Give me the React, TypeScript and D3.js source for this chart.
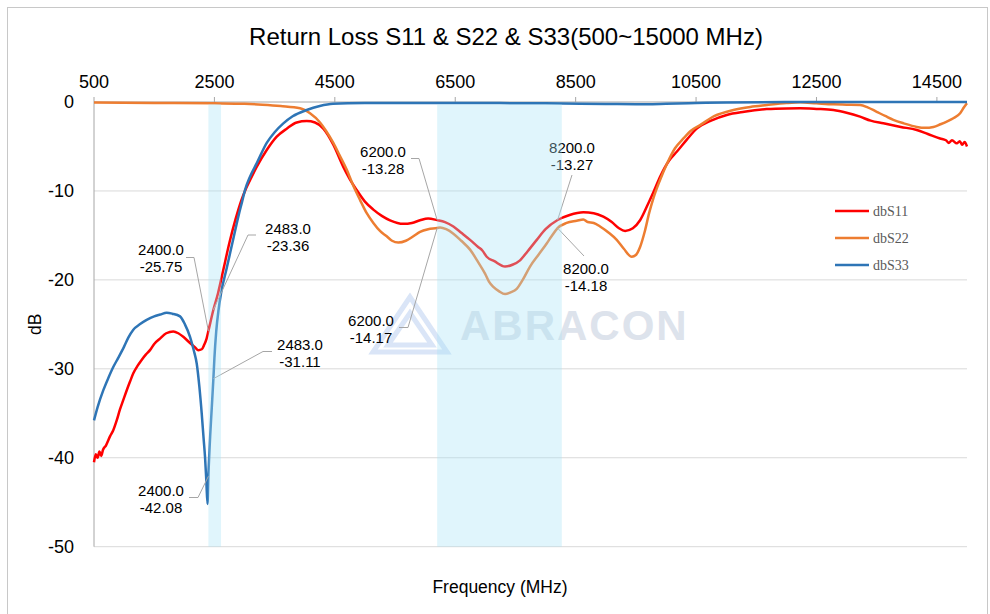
import * as d3 from 'd3';

const W = 990;
const H = 614;

// axis ticks
const xTicks = [500, 2500, 4500, 6500, 8500, 10500, 12500, 14500];
const yTicks = [0, -10, -20, -30, -40, -50];

// frequency (MHz), dB
const s11: [number, number][] = [
  [500, -40.5], [530, -39.6], [560, -40.0], [590, -39.3], [620, -39.8], [650, -39.1],
  [700, -38.6], [766, -37.6], [820, -36.9], [877, -35.8], [930, -34.6], [987, -33.5],
  [1050, -32.3], [1100, -31.4], [1153, -30.5], [1220, -29.7], [1291, -29.0], [1360, -28.4],
  [1430, -27.9], [1500, -27.2], [1596, -26.6], [1700, -26.0], [1817, -25.8], [1900, -26.0],
  [1983, -26.4], [2095, -27.1], [2180, -27.6], [2233, -27.9], [2290, -27.8], [2330, -27.3],
  [2370, -26.6], [2400, -25.75], [2483, -23.36], [2560, -21.5], [2650, -18.8], [2750, -15.8],
  [2850, -13.2], [2950, -11.0], [3008, -10.0], [3091, -8.8], [3202, -7.3], [3369, -5.4],
  [3535, -3.9], [3701, -3.0], [3867, -2.3], [4033, -2.14], [4171, -2.3], [4309, -3.0],
  [4475, -4.8], [4641, -7.3], [4750, -8.7], [4863, -9.9], [5000, -11.2], [5140, -12.1],
  [5280, -12.8], [5417, -13.3], [5638, -13.7], [5780, -13.6], [5915, -13.3], [6050, -13.1],
  [6200, -13.28], [6330, -13.5], [6469, -14.0], [6600, -14.7], [6746, -15.5], [6880, -16.3],
  [6950, -16.7], [7023, -17.4], [7150, -17.9], [7327, -18.5], [7450, -18.3], [7576, -17.8],
  [7700, -16.8], [7854, -15.5], [8000, -14.3], [8200, -13.27], [8400, -12.7], [8628, -12.4],
  [8800, -12.5], [8960, -12.9], [9100, -13.5], [9220, -14.2], [9321, -14.5], [9450, -14.2],
  [9570, -13.3], [9700, -11.5], [9800, -10.0], [9902, -8.4], [10050, -6.6], [10179, -5.6],
  [10350, -4.2], [10511, -3.0], [10750, -2.1], [11009, -1.46], [11300, -1.1], [11674, -0.8],
  [12000, -0.72], [12228, -0.71], [12500, -0.78], [12781, -0.9], [13000, -1.2], [13224, -1.65],
  [13400, -2.1], [13611, -2.4], [13900, -2.8], [14166, -3.15], [14350, -3.6], [14553, -4.1],
  [14650, -4.3], [14700, -4.6], [14750, -4.3], [14831, -4.65], [14880, -4.4], [14920, -4.8],
  [14960, -4.5], [15000, -5.0],
];

const s22: [number, number][] = [
  [500, -0.05], [1500, -0.1], [2500, -0.15], [3000, -0.2], [3300, -0.3], [3600, -0.45],
  [3922, -0.7], [4088, -1.27], [4254, -2.3], [4350, -3.2], [4475, -4.6], [4580, -6.0],
  [4697, -7.6], [4800, -9.3], [4918, -11.0], [5030, -12.5], [5140, -13.6], [5250, -14.5],
  [5362, -15.1], [5450, -15.6], [5555, -15.8], [5680, -15.6], [5804, -15.1], [5915, -14.6],
  [6050, -14.3], [6200, -14.17], [6248, -14.1], [6350, -14.3], [6469, -14.8], [6600, -15.6],
  [6746, -16.6], [6880, -18.0], [6995, -19.3], [7060, -20.2], [7133, -20.8], [7230, -21.3],
  [7327, -21.6], [7420, -21.4], [7521, -21.0], [7620, -20.0], [7742, -18.5], [7880, -17.2],
  [8019, -15.9], [8100, -15.1], [8200, -14.18], [8350, -13.6], [8518, -13.35], [8628, -13.2],
  [8700, -13.5], [8800, -13.6], [8905, -14.0], [9050, -14.7], [9182, -15.5], [9300, -16.5],
  [9432, -17.4], [9500, -17.2], [9570, -16.3], [9650, -14.5], [9720, -12.5], [9792, -10.8],
  [9900, -8.8], [10013, -7.0], [10150, -5.2], [10290, -4.1], [10420, -3.2], [10567, -2.6],
  [10800, -1.6], [11120, -0.9], [11400, -0.55], [11674, -0.34], [12000, -0.12], [12228, -0.04],
  [12500, -0.15], [12781, -0.26], [13000, -0.3], [13224, -0.34], [13350, -0.6], [13500, -1.1],
  [13650, -1.6], [13777, -2.0], [13950, -2.4], [14166, -2.8], [14300, -2.9], [14443, -2.8],
  [14560, -2.5], [14664, -2.2], [14780, -1.8], [14886, -1.27], [14950, -0.6], [15000, -0.15],
];

const s33: [number, number][] = [
  [500, -35.8], [560, -34.3], [655, -32.4], [740, -31.0], [820, -29.8], [900, -28.8],
  [1000, -27.5], [1070, -26.5], [1153, -25.6], [1260, -25.0], [1375, -24.5], [1500, -24.1],
  [1600, -23.9], [1707, -23.7], [1800, -23.8], [1929, -24.1], [2010, -25.0], [2095, -26.4],
  [2160, -28.0], [2206, -29.4], [2250, -32.0], [2289, -35.0], [2320, -37.8], [2344, -39.9],
  [2365, -42.5], [2385, -45.2], [2400, -42.08], [2430, -37.5], [2455, -34.5], [2483, -31.11],
  [2500, -28.8], [2530, -25.8], [2570, -23.3], [2610, -21.5], [2700, -18.8], [2800, -15.8],
  [2900, -12.8], [2960, -11.2], [3008, -9.9], [3091, -8.4], [3202, -6.9], [3369, -4.6],
  [3500, -3.4], [3645, -2.4], [3800, -1.6], [4033, -0.9], [4250, -0.45], [4470, -0.2],
  [5000, -0.12], [6000, -0.1], [7000, -0.12], [8000, -0.15], [9000, -0.22], [9500, -0.25],
  [10000, -0.2], [10500, -0.12], [11000, -0.05], [12000, 0], [15000, 0],
];

const seriesNames = ['dbS11', 'dbS22', 'dbS33'];
const seriesColors = ['#ff0000', '#ed7d31', '#2e75b6'];

// shaded bands (MHz)
const bands: [number, number][] = [[2400, 2610], [6200, 8270]];

// marker readouts: frequency, dB
const markers: [number, number][] = [
  [2400, -25.75], [2483, -23.36], [2483, -31.11], [2400, -42.08],
  [6200, -13.28], [8200, -13.27], [6200, -14.17], [8200, -14.18],
];

// where each readout label sits (px) and the elbow of its leader line
const labelSpots: { cx: number; by: number; leader: [number, number][] }[] = [
  { cx: 161, by: 254.5, leader: [[186, 257.5], [194, 257.5]] },
  { cx: 288, by: 233.5, leader: [[256, 235], [248, 235]] },
  { cx: 300, by: 350, leader: [[272, 351.5], [263, 351.5]] },
  { cx: 161, by: 496, leader: [[189, 497.5], [198, 497.5]] },
  { cx: 383, by: 156.5, leader: [[411, 158.5], [419, 158.5]] },
  { cx: 572, by: 153, leader: [[572, 175]] },
  { cx: 371, by: 326, leader: [[399, 327.5], [408, 327.5]] },
  { cx: 586, by: 274, leader: [[584, 256]] },
];

const FONT = '"Liberation Sans", Arial, sans-serif';

export default function App() {
  const pad = { left: 94, right: 967, top: 102, bottom: 546.7 };
  const x = d3.scaleLinear().domain([500, 15000]).range([pad.left, pad.right]);
  const y = d3.scaleLinear().domain([-50, 0]).range([pad.bottom, pad.top]);

  const line = d3.line<[number, number]>()
    .x(d => x(d[0]))
    .y(d => y(d[1]))
    .curve(d3.curveMonotoneX);

  const series = [s11, s22, s33];

  return (
    <svg width={W} height={H} style={{ position: 'absolute', left: 0, top: 0, background: '#fff' }}>
      <rect x={7.5} y={7.5} width={980} height={640} fill="#fff" stroke="#c8c8c8" />

      <text x={506} y={45} textAnchor="middle" fontFamily={FONT} fontSize={24} fill="#000">
        Return Loss S11 &amp; S22 &amp; S33(500~15000 MHz)
      </text>

      {/* gridlines */}
      {yTicks.filter(t => t !== 0).map(t => (
        <line key={t} x1={pad.left} x2={pad.right} y1={y(t)} y2={y(t)} stroke="#d9d9d9" strokeWidth={1} />
      ))}

      {/* axes */}
      <line x1={pad.left} x2={pad.left} y1={pad.top} y2={pad.bottom} stroke="#a6a6a6" />
      <line x1={pad.left} x2={pad.right} y1={y(0)} y2={y(0)} stroke="#a6a6a6" />
      {xTicks.map(t => (
        <g key={t}>
          <line x1={x(t)} x2={x(t)} y1={y(0) - 5} y2={y(0)} stroke="#a6a6a6" />
          <text x={x(t)} y={88} textAnchor="middle" fontFamily={FONT} fontSize={18} fill="#000">{t}</text>
        </g>
      ))}
      {yTicks.map(t => (
        <text key={t} x={74} y={y(t)} dy="0.36em" textAnchor="end" fontFamily={FONT} fontSize={18} fill="#000">{t}</text>
      ))}
      <text transform={`translate(41,${(pad.top + pad.bottom) / 2}) rotate(-90)`} textAnchor="middle"
        fontFamily={FONT} fontSize={17.5} fill="#000">dB</text>
      <text x={500} y={593} textAnchor="middle" fontFamily={FONT} fontSize={17.5} fill="#000">Frequency (MHz)</text>

      {/* watermark */}
      <g opacity={0.9}>
        <path d="M410,297 L373,352 L447,352 Z M410,313 L388,345 L432,345 Z" fill="none" stroke="#d6e3f7" strokeWidth={5} />
        <text x={460} y={340} fontFamily={FONT} fontWeight="bold" fontSize={42} letterSpacing={2} fill="#dae0ea">ABRACON</text>
      </g>

      {/* curves */}
      {series.map((s, i) => (
        <path key={i} d={line(s) ?? ''} fill="none" stroke={seriesColors[i]} strokeWidth={2.5} strokeLinejoin="round" />
      ))}

      {/* marker labels */}
      {markers.map((m, i) => {
        const spot = labelSpots[i];
        const pts = [...spot.leader, [x(m[0]), y(m[1])]];
        return (
          <g key={i}>
            <polyline points={pts.map(p => p.join(',')).join(' ')} fill="none" stroke="#a6a6a6" strokeWidth={1} />
            <text x={spot.cx} y={spot.by} textAnchor="middle" fontFamily={FONT} fontSize={15} fill="#000">{m[0].toFixed(1)}</text>
            <text x={spot.cx} y={spot.by + 17} textAnchor="middle" fontFamily={FONT} fontSize={15} fill="#000">{m[1].toFixed(2)}</text>
          </g>
        );
      })}

      {/* shaded bands over everything */}
      {bands.map((b, i) => (
        <rect key={i} x={x(b[0])} width={x(b[1]) - x(b[0])} y={y(-0.25)} height={y(-50) - y(-0.25)}
          fill="#a6e2f6" opacity={0.35} />
      ))}

      {/* legend */}
      {seriesNames.map((n, i) => (
        <g key={n}>
          <line x1={835} x2={869} y1={211 + i * 27} y2={211 + i * 27} stroke={seriesColors[i]} strokeWidth={2.5} />
          <text x={873} y={211 + i * 27} dy="0.35em" fontFamily='"Liberation Serif", "Times New Roman", serif' fontSize={14} fill="#595959">{n}</text>
        </g>
      ))}
    </svg>
  );
}
